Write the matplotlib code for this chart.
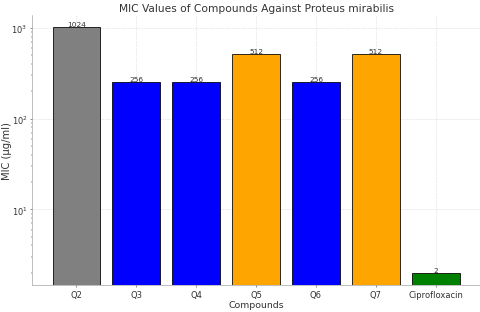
#!/usr/bin/env python3
'''
MIC values of compounds against Proteus mirabilis
'''
import matplotlib
matplotlib.use('Agg')
import matplotlib.pyplot as plt

COMPOUNDS = ['Q2', 'Q3', 'Q4', 'Q5', 'Q6', 'Q7', 'Ciprofloxacin']
MIC = [1024, 256, 256, 512, 256, 512, 2]
COLORS = ['gray', 'blue', 'blue', 'orange', 'blue', 'orange', 'green']


def main():
    ''' Draw the bar chart '''
    fig, ax = plt.subplots(figsize=(10, 6.52), dpi=48)
    bars = ax.bar(COMPOUNDS, MIC, color=COLORS, edgecolor='black',
                  linewidth=1.2, zorder=2)
    ax.set_yscale('log')

    for bar, val in zip(bars, MIC):
        ax.text(bar.get_x() + bar.get_width() / 2, val, str(val),
                ha='center', va='bottom', fontsize=11, color='#333333')

    ax.set_title('MIC Values of Compounds Against Proteus mirabilis',
                 fontsize=16, color='#333333')
    ax.set_xlabel('Compounds', fontsize=14, color='#333333', labelpad=2)
    ax.set_ylabel('MIC (µg/ml)', fontsize=15, color='#333333')
    ax.yaxis.set_label_coords(-0.044, 0.5)
    ax.tick_params(labelsize=12.5, colors='#333333')
    ax.grid(True, linestyle=':', color='#cccccc', linewidth=1, zorder=0)
    ax.set_axisbelow(True)

    for side in ('top', 'right'):
        ax.spines[side].set_visible(False)
    for side in ('left', 'bottom'):
        ax.spines[side].set_color('#888888')

    fig.subplots_adjust(left=0.067, right=1.0, top=0.95, bottom=0.086)
    fig.savefig('out.png', dpi=48)


if __name__ == "__main__":
    main()
